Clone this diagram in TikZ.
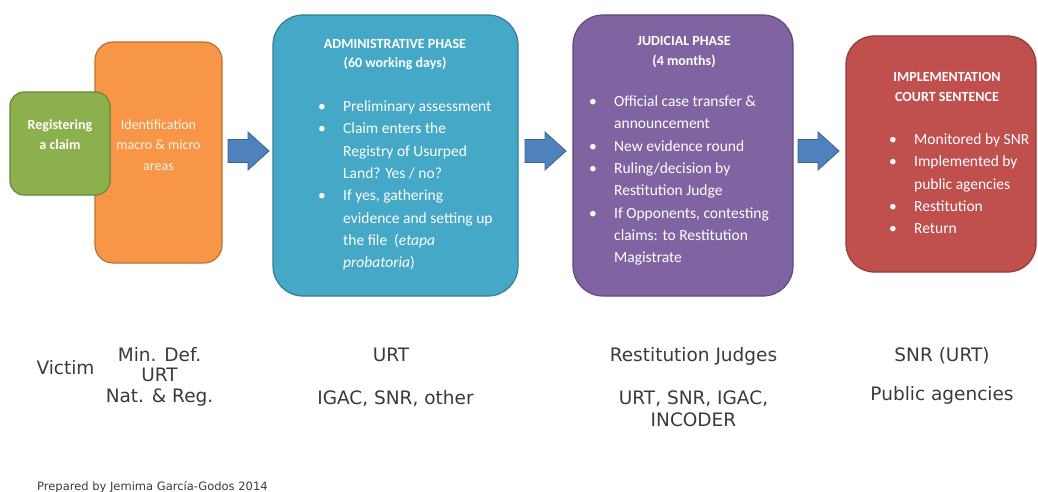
\documentclass[tikz,border=0pt]{standalone}
\usepackage{fontspec}
\setmainfont{Carlito}
\newfontfamily\labelfont{DejaVu Sans}

\definecolor{claimgreen}{HTML}{8DB04E}
\definecolor{identorange}{HTML}{F79646}
\definecolor{adminblue}{HTML}{44A8C6}
\definecolor{judicialpurple}{HTML}{8064A2}
\definecolor{sentencered}{HTML}{C0504D}
\definecolor{arrowblue}{HTML}{4F81BD}
\definecolor{labelgray}{HTML}{3A3A3A}

\tikzset{
  phasebox/.style={line width=1.2pt, rounded corners=#1, inner sep=0pt},
  boxtitle/.style={text=white, align=center, inner sep=0pt, anchor=base, font=\bfseries\fontsize{14}{19}\selectfont},
  boxlist/.style={text=white, align=left, inner sep=0pt, anchor=base west, font=\fontsize{15.5}{22.3}\selectfont},
  actor/.style={text=labelgray, align=center, inner sep=0pt, anchor=base, font=\labelfont\fontsize{18.5}{20.5}\selectfont},
  arrowfill/.style={fill=arrowblue, draw=arrowblue!75!black, line width=0.8pt}
}

\newcommand{\bul}{\makebox[25pt][l]{\textbullet}}
\newcommand{\cnt}{\makebox[25pt]{}}
\newcommand{\phasearrow}[1]{\draw[arrowfill] (#1) -- ++(0,11.5) -- ++(20,0) -- ++(0,7.5) -- ++(21,-19) -- ++(-21,-19) -- ++(0,7.5) -- ++(-20,0) -- cycle;}

\begin{document}
\begin{tikzpicture}[x=1pt,y=-1pt]
  \useasboundingbox (0,0) rectangle (1038,492);

  % first steps (multi-line nodes sit on their last baseline)
  \node [phasebox=18pt, fill=identorange, draw=identorange!75!black, minimum width=127pt, minimum height=221pt] (ident) at (158.5,152.5) {};
  \node [phasebox=14pt, fill=claimgreen, draw=claimgreen!75!black, minimum width=100pt, minimum height=103pt] (claim) at (60,143.5) {};

  \node [boxtitle, font=\bfseries\fontsize{14}{20.3}\selectfont] (claimtxt) at (60,149.8) {Registering\\a claim};
  \node [boxtitle, text=identorange!12!white, font=\fontsize{14}{20.3}\selectfont] (identtxt) at (158.5,170.1) {Identification\\macro \& micro\\areas};

  % phases
  \node [phasebox=30pt, fill=adminblue, draw=adminblue!75!black, minimum width=245pt, minimum height=281pt] (admin) at (395.5,155.5) {};
  \node [phasebox=30pt, fill=judicialpurple, draw=judicialpurple!75!black, minimum width=220pt, minimum height=281pt] (judicial) at (683,155.5) {};
  \node [phasebox=28pt, fill=sentencered, draw=sentencered!75!black, minimum width=190pt, minimum height=236pt] (sentence) at (941,154) {};

  \node [boxtitle] (admintitle) at (395,68) {ADMINISTRATIVE PHASE\\(60 working days)};
  \node [boxtitle, font=\bfseries\fontsize{14}{20.5}\selectfont] (judicialtitle) at (684,66) {JUDICIAL PHASE\\(4 months)};
  \node [boxtitle, font=\bfseries\fontsize{14}{20.5}\selectfont] (sentencetitle) at (947,102) {IMPLEMENTATION\\COURT SENTENCE};

  \node [boxlist] (adminlist) at (318,267.7) {\bul Preliminary assessment\\
    \bul Claim enters the\\
    \cnt Registry of Usurped\\
    \cnt Land? Yes / no?\\
    \bul If yes, gathering\\
    \cnt evidence and setting up\\
    \cnt the file\ \ (\textit{etapa}\\
    \cnt \textit{probatoria})};
  \node [boxlist] (judiciallist) at (589,262.7) {\bul Official case transfer \&\\
    \cnt announcement\\
    \bul New evidence round\\
    \bul Ruling/decision by\\
    \cnt Restitution Judge\\
    \bul If Opponents, contesting\\
    \cnt claims: to Restitution\\
    \cnt Magistrate};
  \node [boxlist] (sentencelist) at (889,233.8) {\bul Monitored by SNR\\
    \bul Implemented by\\
    \cnt public agencies\\
    \bul Restitution\\
    \bul Return};

  % block arrows
  \coordinate (arr1) at (228,151);
  \coordinate (arr2) at (525,151);
  \coordinate (arr3) at (798,151);
  \phasearrow{arr1}
  \phasearrow{arr2}
  \phasearrow{arr3}

  % actors
  \node [actor] (victim) at (65.5,374) {Victim};
  \node [actor] (mindef) at (159.5,402) {Min. Def.\\URT\\Nat. \& Reg.};
  \node [actor] (urt) at (391,361) {URT};
  \node [actor] (igac) at (395.5,404) {IGAC, SNR, other};
  \node [actor] (judges) at (693.5,361) {Restitution Judges};
  \node [actor, font=\labelfont\fontsize{18.5}{22}\selectfont] (urtsnr) at (693.5,426) {URT, SNR, IGAC,\\INCODER};
  \node [actor] (snrurt) at (942,361) {SNR (URT)};
  \node [actor] (agencies) at (942,400) {Public agencies};

  \node [text=labelgray, inner sep=0pt, anchor=base west, font=\labelfont\fontsize{11.5}{12}\selectfont] (credit) at (37,490) {Prepared by Jemima García-Godos 2014};
\end{tikzpicture}
\end{document}
